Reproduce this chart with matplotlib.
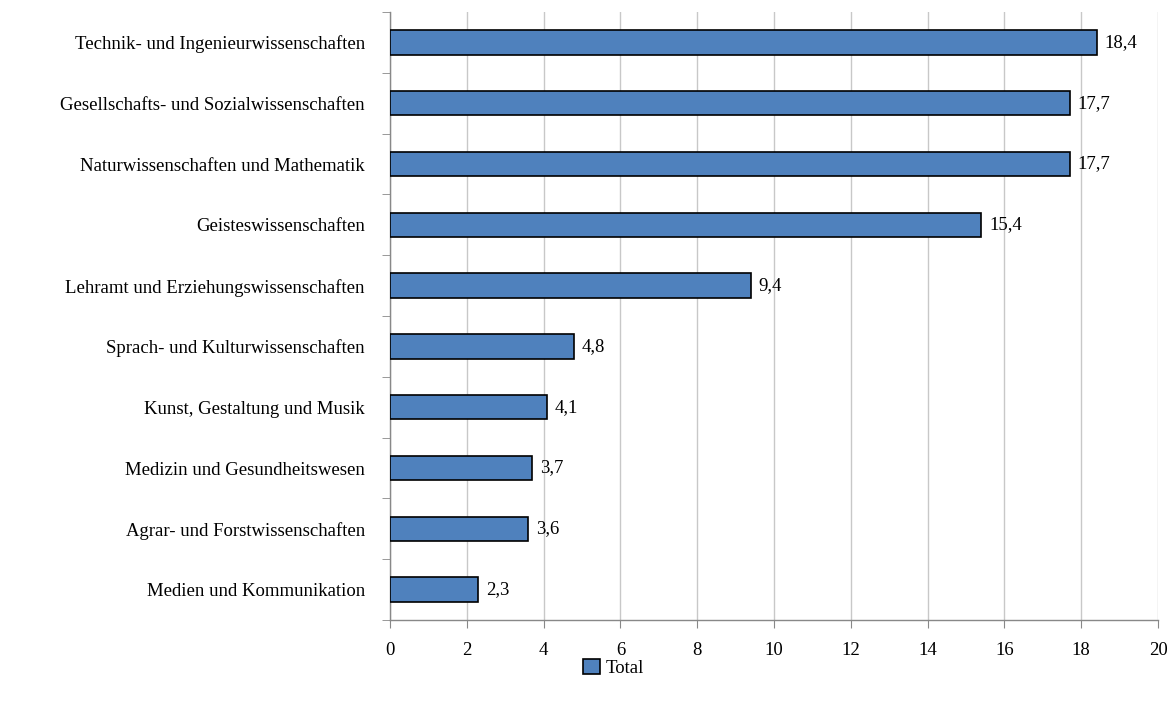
import matplotlib.pyplot as plt
import matplotlib.patches as mpatches

plt.rcParams['font.family'] = ['Liberation Serif', 'DejaVu Serif']

categories = [
    'Technik- und Ingenieurwissenschaften',
    'Gesellschafts- und Sozialwissenschaften',
    'Naturwissenschaften und Mathematik',
    'Geisteswissenschaften',
    'Lehramt und Erziehungswissenschaften',
    'Sprach- und Kulturwissenschaften',
    'Kunst, Gestaltung und Musik',
    'Medizin und Gesundheitswesen',
    'Agrar- und Forstwissenschaften',
    'Medien und Kommunikation',
]
values = [18.4, 17.7, 17.7, 15.4, 9.4, 4.8, 4.1, 3.7, 3.6, 2.3]
value_labels = ['18,4', '17,7', '17,7', '15,4', '9,4', '4,8', '4,1', '3,7', '3,6', '2,3']
xticks = [0, 2, 4, 6, 8, 10, 12, 14, 16, 18, 20]

bar_color = '#4F81BD'
grid_color = '#C8C8C8'
fs = 13.5

fig = plt.figure(figsize=(11.76, 7.09), dpi=100)
ax = fig.add_axes([0.3316, 0.1255, 0.6531, 0.8575])

ypos = list(range(len(categories)))[::-1]
ax.barh(ypos, values, height=0.4, color=bar_color, edgecolor='black', linewidth=1.2, zorder=3)

for y, v, lab in zip(ypos, values, value_labels):
    ax.text(v + 0.2, y, lab, va='center', ha='left', fontsize=fs)

ax.set_xlim(0, 20)
ax.set_ylim(-0.5, len(categories) - 0.5)
ax.set_xticks(xticks)
ax.set_xticklabels([str(t) for t in xticks], fontsize=fs)
ax.xaxis.grid(True, color=grid_color, linewidth=1, zorder=0)
ax.set_axisbelow(True)

ax.set_yticks(ypos)
ax.set_yticklabels(categories, fontsize=fs)
ax.tick_params(axis='y', length=0, pad=18)
# boundary ticks on the category axis
ax.set_yticks([y - 0.5 for y in range(len(categories) + 1)], minor=True)
ax.tick_params(axis='y', which='minor', length=6, color='#888888', direction='out')
ax.tick_params(axis='x', length=6, color='#888888', direction='out', pad=10)

for side in ['top', 'right']:
    ax.spines[side].set_visible(False)
for side in ['left', 'bottom']:
    ax.spines[side].set_color('#888888')
    ax.spines[side].set_linewidth(1)

handle = mpatches.Patch(facecolor=bar_color, edgecolor='black', linewidth=1.2, label='Total')
fig.legend(handles=[handle], loc='center', bbox_to_anchor=(0.522, 0.058), frameon=False,
           fontsize=fs, handlelength=0.9, handleheight=0.9, handletextpad=0.3)

fig.savefig('out.png', dpi=100)
